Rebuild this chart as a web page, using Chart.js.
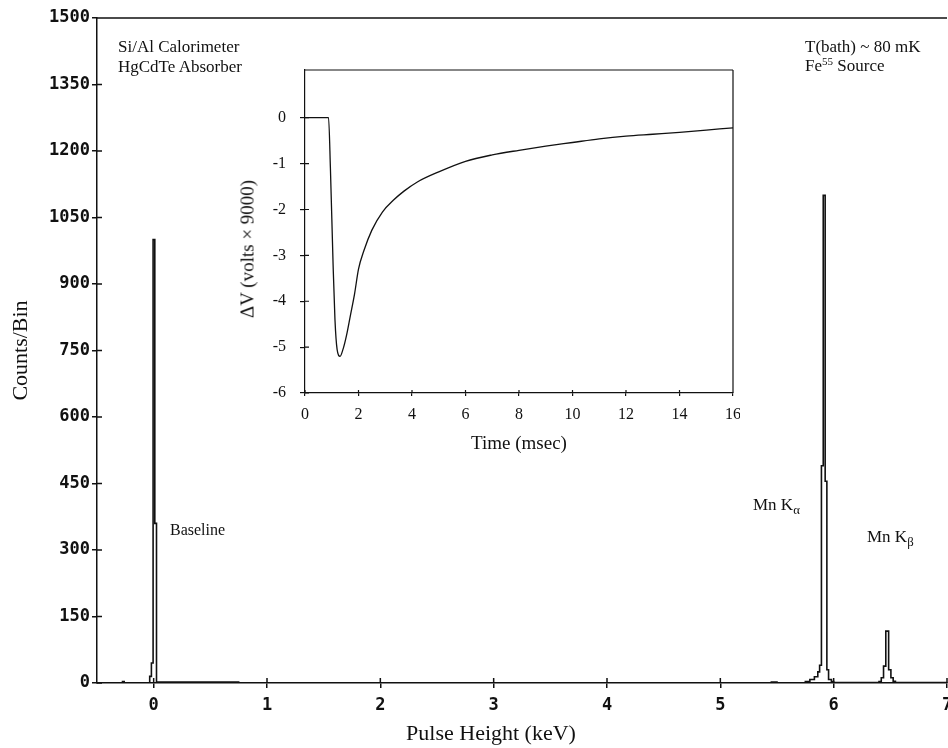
<!DOCTYPE html>
<html>
<head>
<meta charset="utf-8">
<script src="https://cdn.jsdelivr.net/npm/chart.js@4.4.1/dist/chart.umd.min.js"></script>
<style>
body { margin: 0; background: #fff; }
#wrap { position: relative; width: 948px; height: 748px; font-family: "Liberation Serif", serif; color: #111; }
#wrap canvas { position: absolute; }
#mainChart { left: 0; top: 0; }
#insetChart { left: 240px; top: 60px; }
.note { position: absolute; font-size: 17px; line-height: 1; white-space: nowrap; }
.note sub { font-size: 0.75em; vertical-align: -0.35em; line-height: 0; }
.note sup { font-size: 0.65em; vertical-align: 0.55em; line-height: 0; }
</style>
</head>
<body>
<div id="wrap">
  <canvas id="mainChart" width="948" height="748"></canvas>
  <canvas id="insetChart" width="500" height="400"></canvas>

  <div class="note" style="left:118px; top:38px;">Si/Al Calorimeter</div>
  <div class="note" style="left:118px; top:58px;">HgCdTe Absorber</div>
  <div class="note" style="left:805px; top:38px;">T(bath) ~ 80 mK</div>
  <div class="note" style="left:805px; top:57px;">Fe<sup>55</sup> Source</div>
  <div class="note" style="left:170px; top:522px; font-size:16px;">Baseline</div>
  <div class="note" style="left:753px; top:496px;">Mn K<sub>α</sub></div>
  <div class="note" style="left:867px; top:528px;">Mn K<sub>β</sub></div>
  <div class="note" style="left:491px; top:722px; font-size:22px; transform:translateX(-50%);">Pulse Height (keV)</div>
  <div class="note" style="left:247px; top:249px; font-size:19px; transform:translate(-50%,-50%) rotate(-90deg);">ΔV (volts × 9000)</div>
</div>

<script>
// spectrum: left edge of each bin (keV) and counts in it
const binEnergy = [-0.5, -0.275, -0.26, -0.035, -0.02, -0.005, 0.01, 0.025, 0.75,
    5.45, 5.5, 5.75, 5.79, 5.83, 5.86, 5.876, 5.892, 5.908, 5.925, 5.94, 5.955, 5.98, 6.0,
    6.4, 6.42, 6.44, 6.46, 6.485, 6.505, 6.525, 6.545, 7.0];
const binCounts = [0, 3, 0, 15, 45, 1000, 360, 2, 0,
    2, 0, 3, 8, 14, 25, 40, 490, 1100, 455, 30, 8, 3, 1,
    3, 12, 38, 117, 30, 12, 4, 1, 0];
const energyTicks = [0, 1, 2, 3, 4, 5, 6, 7];
const countTicks = [0, 150, 300, 450, 600, 750, 900, 1050, 1200, 1350, 1500];

// inset pulse
const timeMs = [0, 0.88, 0.95, 1.05, 1.12, 1.2, 1.31, 1.42, 1.55, 1.7, 1.85, 2.0, 2.2, 2.5, 2.9,
    3.3, 3.7, 4.2, 5.0, 6.0, 7.0, 8.0, 9.0, 10.0, 11.0, 12.0, 13.0, 14.0, 15.0, 16.0];
const deltaV = [0, 0, -1.1, -3.2, -4.4, -5.05, -5.2, -5.05, -4.75, -4.3, -3.85, -3.3, -2.9, -2.45, -2.05,
    -1.8, -1.6, -1.4, -1.18, -0.95, -0.81, -0.71, -0.62, -0.54, -0.46, -0.4, -0.36, -0.32, -0.27, -0.22];
const timeTicks = [0, 2, 4, 6, 8, 10, 12, 14, 16];
const voltTicks = [-6, -5, -4, -3, -2, -1, 0];

const ink = '#111';

// frame lines and ticks pointing into the plot
const extraLines = {
    id: 'extraLines',
    afterDraw(chart, args, opts) {
        const {ctx, chartArea: a, scales} = chart;
        ctx.save();
        ctx.strokeStyle = ink;
        ctx.lineWidth = opts.lineWidth || 1;
        ctx.beginPath();
        if (opts.top) { ctx.moveTo(a.left, a.top); ctx.lineTo(a.right, a.top); }
        if (opts.right) { ctx.moveTo(a.right, a.top); ctx.lineTo(a.right, a.bottom); }
        scales.x.ticks.forEach(t => {
            const px = scales.x.getPixelForValue(t.value);
            ctx.moveTo(px, a.bottom);
            ctx.lineTo(px, a.bottom - opts.xIn);
        });
        scales.y.ticks.forEach(t => {
            const py = scales.y.getPixelForValue(t.value);
            ctx.moveTo(a.left, py);
            ctx.lineTo(a.left + opts.yIn, py);
        });
        ctx.stroke();
        ctx.restore();
    }
};

const monoFont = { family: 'DejaVu Sans Mono', weight: 'bold', size: 17 };

new Chart(document.getElementById('mainChart'), {
    type: 'line',
    data: {
        datasets: [{
            data: binEnergy.map((e, i) => ({ x: e, y: binCounts[i] })),
            stepped: 'before',
            borderColor: ink,
            borderWidth: 1.6,
            pointRadius: 0,
            fill: false
        }]
    },
    options: {
        responsive: false,
        animation: false,
        layout: { padding: { top: 18, right: 1, left: 0, bottom: 0 } },
        plugins: {
            legend: { display: false },
            tooltip: { enabled: false },
            extraLines: { top: true, right: false, xIn: 5, yIn: 5, lineWidth: 1.5 }
        },
        scales: {
            x: {
                type: 'linear',
                min: -0.5,
                max: 7,
                afterBuildTicks: s => { s.ticks = energyTicks.map(v => ({ value: v })); },
                afterFit: s => { s.height = 65; s.paddingLeft = 0; s.paddingRight = 0; },
                grid: { drawOnChartArea: false, tickLength: 5, color: ink, lineWidth: 1.5 },
                border: { color: ink, width: 1.5 },
                ticks: { color: ink, font: monoFont, padding: 7, maxRotation: 0, autoSkip: false,
                         callback: v => String(v) }
            },
            y: {
                min: 0,
                max: 1500,
                afterBuildTicks: s => { s.ticks = countTicks.map(v => ({ value: v })); },
                afterFit: s => { s.width = 97; s.paddingTop = 0; s.paddingBottom = 0; },
                grid: { drawOnChartArea: false, tickLength: 5, color: ink, lineWidth: 1.5 },
                border: { color: ink, width: 1.5 },
                ticks: { color: ink, font: monoFont, padding: 2, callback: v => String(v) },
                title: {
                    display: true,
                    text: 'Counts/Bin',
                    color: ink,
                    font: { family: 'Liberation Serif', size: 22 },
                    padding: { top: 8 }
                }
            }
        }
    },
    plugins: [extraLines]
});

const serifTicks = { family: 'Liberation Serif', size: 16 };

new Chart(document.getElementById('insetChart'), {
    type: 'line',
    data: {
        datasets: [{
            data: timeMs.map((t, i) => ({ x: t, y: deltaV[i] })),
            borderColor: ink,
            borderWidth: 1.3,
            pointRadius: 0,
            cubicInterpolationMode: 'monotone',
            fill: false
        }]
    },
    options: {
        responsive: false,
        animation: false,
        layout: { padding: { top: 10, right: 7, left: 0, bottom: 0 } },
        plugins: {
            legend: { display: false },
            tooltip: { enabled: false },
            extraLines: { top: true, right: true, xIn: 3, yIn: 4, lineWidth: 1.2 }
        },
        scales: {
            x: {
                type: 'linear',
                min: 0,
                max: 16,
                afterBuildTicks: s => { s.ticks = timeTicks.map(v => ({ value: v })); },
                afterFit: s => { s.height = 67; s.paddingLeft = 0; s.paddingRight = 0; },
                grid: { drawOnChartArea: false, tickLength: 3, color: ink, lineWidth: 1.2 },
                border: { color: ink, width: 1.2 },
                ticks: { color: ink, font: serifTicks, padding: 9, maxRotation: 0, autoSkip: false },
                title: {
                    display: true,
                    text: 'Time (msec)',
                    color: ink,
                    font: { family: 'Liberation Serif', size: 19 },
                    padding: { bottom: 5 }
                }
            },
            y: {
                min: -6,
                max: 1.04,
                afterBuildTicks: s => { s.ticks = voltTicks.map(v => ({ value: v })); },
                afterFit: s => { s.width = 65; s.paddingTop = 0; s.paddingBottom = 0; },
                grid: { drawOnChartArea: false, tickLength: 5, color: ink, lineWidth: 1.2 },
                border: { color: ink, width: 1.2 },
                ticks: { color: ink, font: serifTicks, padding: 14 }
            }
        }
    },
    plugins: [extraLines]
});
</script>
</body>
</html>
